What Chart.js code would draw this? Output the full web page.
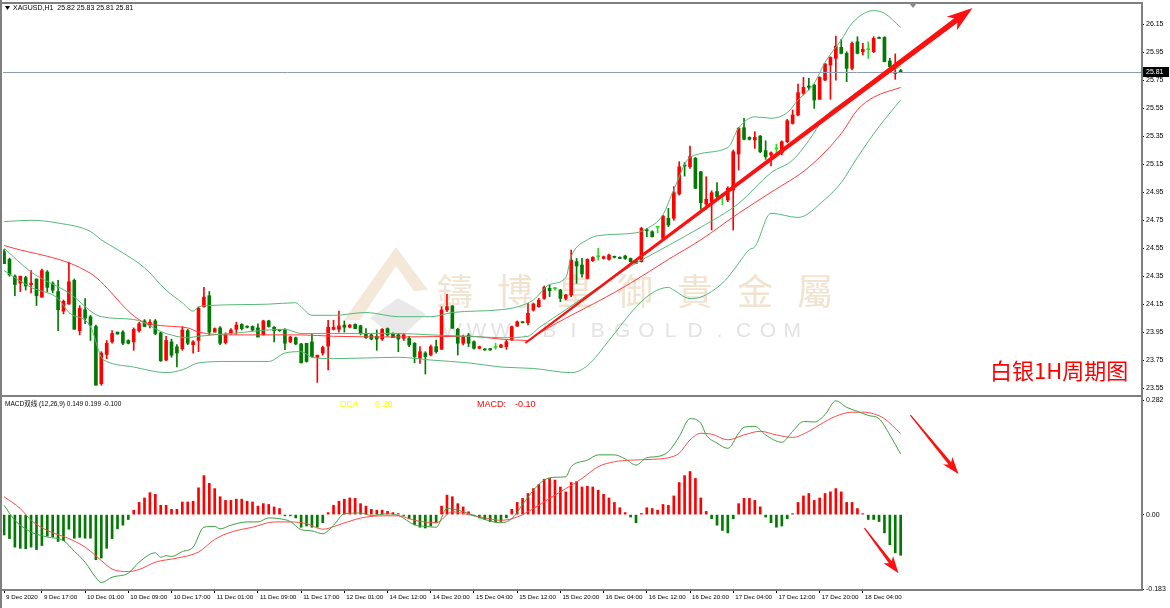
<!DOCTYPE html>
<html>
<head>
<meta charset="utf-8">
<title>XAGUSD H1</title>
<script src="https://cdn.jsdelivr.net/npm/chart.js@4.4.1/dist/chart.umd.min.js"></script>
<style>
  html, body { margin: 0; padding: 0; background: #fff; }
  #wrap { position: relative; width: 1170px; height: 608px; overflow: hidden; background: #fff; }
  #priceChart { position: absolute; left: 0; top: 0; }
  #macdChart { position: absolute; left: 0; top: 397px; }
</style>
</head>
<body>
<div id="wrap">
  <canvas id="priceChart" width="1170" height="397"></canvas>
  <canvas id="macdChart" width="1170" height="211"></canvas>
</div>
<script>
// time axis labels and the bar each one sits on
const timeLabels = ['9 Dec 2020', '9 Dec 17:00', '10 Dec 01:00', '10 Dec 09:00', '10 Dec 17:00', '11 Dec 01:00',
    '11 Dec 09:00', '11 Dec 17:00', '12 Dec 01:00', '14 Dec 12:00', '14 Dec 20:00', '15 Dec 04:00', '15 Dec 12:00',
    '15 Dec 20:00', '16 Dec 04:00', '16 Dec 12:00', '16 Dec 20:00', '17 Dec 04:00', '17 Dec 12:00', '17 Dec 20:00', '18 Dec 04:00'];
const timeTickBars = [0, 7, 15, 23, 31, 39, 47, 55, 63, 71, 79, 87, 95, 103, 111, 119, 127, 135, 143, 151, 159];

const priceTicks = [26.15, 25.95, 25.75, 25.55, 25.35, 25.15, 24.95, 24.75, 24.55, 24.35, 24.15, 23.95, 23.75, 23.55];
const macdTicks = [0.282, 0, -0.183];
const macdTickLabels = ['0.282', '0.00', '-0.183'];

// XAGUSD H1 candles
const opens = [
    24.525, 24.47, 24.35, 24.30, 24.34, 24.29, 24.33, 24.20, 24.38, 24.30,
    24.24, 24.10, 24.15, 24.32, 23.96, 24.11, 24.06, 23.99, 23.58, 23.79,
    23.88, 23.95, 23.95, 23.89, 23.88, 23.96, 24.03, 24.00, 24.03, 23.945,
    23.75, 23.88, 23.845, 23.83, 23.96, 23.86, 23.89, 24.13, 24.21, 23.95,
    23.98, 23.875, 23.94, 23.97, 24.005, 23.99, 23.99, 23.98, 23.93, 24.03,
    23.985, 23.965, 23.97, 23.88, 23.91, 23.865, 23.87, 23.88, 23.77, 23.80,
    23.85, 23.97, 23.97, 24.00, 23.985, 24.005, 23.995, 23.935, 23.93, 23.92,
    23.90, 23.975, 23.94, 23.93, 23.905, 23.905, 23.87, 23.762, 23.80, 23.786,
    23.846, 23.827, 24.108, 24.137, 23.97, 23.87, 23.929, 23.881, 23.834, 23.829,
    23.831, 23.84, 23.841, 23.846, 23.893, 23.993, 24.024, 24.017, 24.108, 24.132,
    24.191, 24.263, 24.26, 24.251, 24.191, 24.215, 24.454, 24.43, 24.334, 24.461,
    24.489, 24.477, 24.47, 24.489, 24.485, 24.494, 24.477, 24.458, 24.454, 24.68,
    24.668, 24.70, 24.62, 24.764, 24.764, 24.938, 25.145, 25.133, 25.193, 25.097,
    24.866, 24.883, 24.955, 24.92, 24.895, 24.966, 25.224, 25.412, 25.343, 25.324,
    25.352, 25.248, 25.217, 25.26, 25.233, 25.312, 25.443, 25.503, 25.658, 25.71,
    25.717, 25.615, 25.753, 25.86, 25.908, 25.987, 25.944, 25.837, 26.027, 25.956,
    25.97, 25.956, 26.058, 26.058, 25.889, 25.80, 25.82
];
const highs = [
    24.54, 24.48, 24.36, 24.35, 24.35, 24.39, 24.33, 24.40, 24.39, 24.31,
    24.32, 24.18, 24.45, 24.33, 24.14, 24.19, 24.07, 24.00, 23.81, 23.89,
    23.96, 23.95, 23.96, 23.895, 23.98, 24.02, 24.04, 24.04, 24.04, 23.95,
    23.92, 23.90, 23.86, 23.99, 23.97, 23.89, 24.13, 24.27, 24.24, 23.98,
    23.99, 23.945, 23.975, 24.02, 24.01, 23.995, 23.995, 24.01, 24.035, 24.035,
    23.99, 23.965, 23.975, 23.92, 23.915, 23.87, 23.87, 23.94, 23.785, 23.85,
    24.035, 24.035, 24.10, 24.03, 24.005, 24.01, 24.00, 23.975, 23.935, 23.965,
    23.975, 23.98, 23.945, 23.94, 23.94, 23.92, 23.875, 23.846, 23.81, 23.858,
    23.893, 24.132, 24.22, 24.14, 23.977, 23.929, 23.941, 23.888, 23.85, 23.832,
    23.834, 23.87, 23.862, 23.893, 23.993, 24.03, 24.026, 24.156, 24.158, 24.191,
    24.28, 24.287, 24.27, 24.256, 24.22, 24.537, 24.477, 24.477, 24.475, 24.49,
    24.549, 24.494, 24.508, 24.494, 24.489, 24.50, 24.48, 24.46, 24.70, 24.692,
    24.675, 24.704, 24.785, 24.835, 24.99, 25.169, 25.162, 25.281, 25.20, 25.10,
    25.061, 24.961, 25.019, 24.94, 24.99, 25.252, 25.415, 25.479, 25.347, 25.384,
    25.357, 25.319, 25.24, 25.295, 25.319, 25.472, 25.539, 25.724, 25.772, 25.765,
    25.724, 25.777, 25.872, 25.92, 26.068, 26.044, 25.956, 26.027, 26.063, 26.015,
    26.027, 26.063, 26.063, 26.063, 25.908, 25.94, 25.83
];
const lows = [
    24.44, 24.35, 24.21, 24.24, 24.25, 24.23, 24.14, 24.20, 24.24, 24.23,
    23.96, 24.08, 24.15, 23.97, 23.93, 24.01, 23.89, 23.57, 23.57, 23.76,
    23.87, 23.935, 23.86, 23.865, 23.82, 23.95, 23.99, 23.98, 23.93, 23.74,
    23.745, 23.77, 23.70, 23.82, 23.86, 23.80, 23.81, 24.13, 23.93, 23.95,
    23.86, 23.865, 23.935, 23.935, 23.965, 23.98, 23.96, 23.915, 23.93, 23.985,
    23.88, 23.955, 23.825, 23.875, 23.86, 23.73, 23.735, 23.77, 23.59, 23.785,
    23.68, 23.965, 23.95, 23.95, 23.98, 23.975, 23.93, 23.905, 23.895, 23.82,
    23.89, 23.92, 23.91, 23.81, 23.89, 23.845, 23.73, 23.726, 23.65, 23.78,
    23.80, 23.827, 24.096, 23.977, 23.786, 23.858, 23.846, 23.827, 23.83, 23.82,
    23.82, 23.827, 23.838, 23.827, 23.89, 23.99, 24.015, 24.001, 24.10, 24.127,
    24.184, 24.203, 24.25, 24.167, 24.18, 24.203, 24.299, 24.342, 24.33, 24.455,
    24.465, 24.472, 24.465, 24.48, 24.475, 24.47, 24.45, 24.44, 24.45, 24.632,
    24.63, 24.66, 24.613, 24.704, 24.75, 24.93, 25.066, 25.121, 24.978, 24.828,
    24.828, 24.68, 24.895, 24.86, 24.883, 24.68, 25.109, 25.324, 25.324, 25.264,
    25.233, 25.186, 25.138, 25.217, 25.217, 25.305, 25.438, 25.496, 25.646, 25.682,
    25.55, 25.615, 25.748, 25.615, 25.753, 25.94, 25.741, 25.825, 25.94, 25.932,
    25.908, 25.949, 26.05, 25.884, 25.837, 25.758, 25.81
];
const closes = [
    24.44, 24.36, 24.29, 24.35, 24.28, 24.30, 24.21, 24.39, 24.27, 24.25,
    24.11, 24.17, 24.31, 23.97, 24.12, 24.05, 24.00, 23.57, 23.80, 23.87,
    23.94, 23.936, 23.87, 23.87, 23.97, 24.01, 23.99, 24.02, 23.94, 23.745,
    23.89, 23.785, 23.80, 23.965, 23.87, 23.88, 24.12, 24.20, 23.95, 23.975,
    23.87, 23.93, 23.965, 24.00, 23.975, 23.985, 23.965, 23.915, 24.03, 23.99,
    23.96, 23.96, 23.87, 23.915, 23.865, 23.73, 23.74, 23.775, 23.785, 23.84,
    23.985, 23.985, 23.995, 23.985, 24.00, 23.975, 23.94, 23.91, 23.90, 23.90,
    23.97, 23.93, 23.91, 23.90, 23.93, 23.858, 23.775, 23.81, 23.775, 23.846,
    23.81, 24.108, 24.132, 23.977, 23.87, 23.917, 23.87, 23.834, 23.846, 23.822,
    23.822, 23.84, 23.858, 23.881, 23.989, 24.024, 24.017, 24.084, 24.151, 24.179,
    24.27, 24.246, 24.26, 24.191, 24.215, 24.465, 24.423, 24.366, 24.47, 24.485,
    24.489, 24.489, 24.501, 24.485, 24.477, 24.477, 24.454, 24.442, 24.692, 24.675,
    24.632, 24.70, 24.78, 24.716, 24.947, 25.133, 25.138, 25.205, 24.978, 24.876,
    24.90, 24.947, 24.919, 24.92, 24.978, 25.24, 25.407, 25.329, 25.329, 25.343,
    25.24, 25.205, 25.233, 25.26, 25.312, 25.462, 25.503, 25.663, 25.701, 25.701,
    25.61, 25.772, 25.868, 25.915, 25.996, 25.944, 25.837, 26.015, 25.944, 25.973,
    25.97, 26.051, 26.051, 25.884, 25.849, 25.808, 25.81
];

// indicator lines, [bar, value]
const bbUpper = [[0, 24.74], [5, 24.75], [10, 24.73], [16, 24.67], [18, 24.61], [21, 24.54], [26, 24.41], [30, 24.25],
    [33, 24.16], [35, 24.10], [36, 24.13], [38, 24.14], [49, 24.15], [54, 24.16], [55, 24.13], [57, 24.07], [61, 24.07],
    [67, 24.09], [73, 24.06], [79, 24.06], [83, 24.09], [92, 24.11], [95, 24.13], [98, 24.18], [101, 24.29], [104, 24.34],
    [105, 24.49], [108, 24.61], [110, 24.64], [117, 24.66], [119, 24.69], [122, 24.79], [124, 24.97], [127, 25.20],
    [134, 25.27], [136, 25.41], [139, 25.49], [142, 25.48], [145, 25.52], [147, 25.61], [150, 25.73], [152, 25.88],
    [155, 26.04], [157, 26.16], [161, 26.25], [163, 26.23], [166, 26.13]];
const bbMiddle = [[0, 24.55], [5, 24.38], [12, 24.23], [18, 24.06], [24, 24.04], [30, 23.94], [34, 23.91], [36, 23.92],
    [42, 23.94], [52, 23.97], [55, 23.94], [73, 23.94], [79, 23.93], [86, 23.92], [92, 23.91], [97, 23.92], [99, 23.98],
    [104, 24.11], [110, 24.27], [116, 24.42], [123, 24.57], [129, 24.70], [136, 24.87], [142, 25.09], [146, 25.18],
    [149, 25.32], [152, 25.49], [156, 25.61], [161, 25.75], [166, 25.85]];
const bbLower = [[0, 24.39], [5, 24.27], [10, 24.19], [12, 24.09], [16, 23.99], [18, 23.77], [19, 23.74], [24, 23.70],
    [30, 23.66], [33, 23.68], [36, 23.73], [42, 23.74], [49, 23.74], [52, 23.80], [55, 23.81], [57, 23.77], [61, 23.76],
    [73, 23.77], [79, 23.75], [86, 23.73], [92, 23.70], [98, 23.69], [105, 23.66], [108, 23.71], [112, 23.89],
    [117, 24.13], [120, 24.23], [123, 24.27], [124, 24.25], [127, 24.19], [129, 24.20], [133, 24.30], [135, 24.39],
    [138, 24.54], [139, 24.56], [142, 24.80], [147, 24.77], [152, 24.90], [155, 25.02], [158, 25.20], [162, 25.42], [166, 25.61]];
const maLine = [[0, 24.57], [16, 24.37], [26, 24.02], [34, 23.98], [36, 23.95], [42, 23.93], [55, 23.93], [61, 23.92],
    [73, 23.915], [86, 23.92], [92, 23.90], [97, 23.89], [99, 23.94], [104, 24.05], [110, 24.17], [116, 24.30],
    [123, 24.47], [129, 24.61], [136, 24.80], [142, 24.95], [149, 25.13], [155, 25.37], [158, 25.54], [161, 25.63], [166, 25.70]];

// MACD histogram, one per bar
const macdHist = [
    -0.050, -0.059, -0.080, -0.083, -0.084, -0.080, -0.086, -0.076, -0.053, -0.055,
    -0.066, -0.064, -0.036, -0.058, -0.056, -0.058, -0.058, -0.111, -0.107, -0.083,
    -0.059, -0.035, -0.026, -0.012, 0.011, 0.030, 0.041, 0.054, 0.050, 0.023,
    0.023, 0.013, 0.013, 0.031, 0.031, 0.033, 0.066, 0.096, 0.077, 0.064,
    0.044, 0.035, 0.035, 0.038, 0.038, 0.033, 0.031, 0.021, 0.027, 0.025,
    0.019, 0.015, -0.003, -0.003, -0.008, -0.031, -0.028, -0.031, -0.031, -0.020,
    0.005, 0.023, 0.033, 0.038, 0.041, 0.040, 0.027, 0.021, 0.013, 0.011,
    0.011, 0.008, 0.005, 0.002, -0.002, -0.010, -0.025, -0.031, -0.033, -0.028,
    -0.020, 0.021, 0.048, 0.044, 0.027, 0.019, 0.007, -0.003, -0.008, -0.012,
    -0.017, -0.018, -0.017, -0.008, 0.013, 0.030, 0.040, 0.052, 0.064, 0.074,
    0.087, 0.089, 0.085, 0.068, 0.056, 0.079, 0.081, 0.068, 0.070, 0.068,
    0.060, 0.050, 0.041, 0.030, 0.017, 0.005, -0.006, -0.020, 0.003, 0.017,
    0.015, 0.011, 0.025, 0.023, 0.046, 0.079, 0.096, 0.106, 0.089, 0.041,
    0.008, -0.010, -0.026, -0.039, -0.045, -0.010, 0.027, 0.040, 0.040, 0.035,
    0.019, -0.006, -0.020, -0.031, -0.028, -0.010, 0.002, 0.030, 0.046, 0.052,
    0.035, 0.041, 0.052, 0.056, 0.064, 0.056, 0.030, 0.030, 0.015, 0.002,
    -0.012, -0.012, -0.017, -0.045, -0.074, -0.094, -0.100
];
const difLine = [[0, 0.023], [2, -0.014], [5, -0.043], [8, -0.055], [11, -0.064], [13, -0.090], [15, -0.117], [17, -0.155],
    [18, -0.167], [20, -0.154], [23, -0.144], [25, -0.117], [28, -0.094], [29, -0.105], [30, -0.101], [31, -0.103],
    [33, -0.091], [35, -0.080], [37, -0.031], [39, -0.029], [40, -0.035], [42, -0.026], [45, -0.018], [47, -0.018],
    [49, -0.008], [51, -0.010], [53, -0.017], [55, -0.037], [57, -0.040], [59, -0.047], [61, -0.026], [63, 0.002],
    [66, 0.004], [68, -0.002], [71, 0.002], [73, -0.002], [76, -0.025], [78, -0.029], [80, -0.031], [82, 0.015],
    [84, 0.011], [87, -0.002], [89, -0.012], [92, -0.020], [94, -0.010], [96, 0.025], [98, 0.060], [100, 0.085],
    [102, 0.092], [104, 0.093], [105, 0.118], [108, 0.134], [110, 0.147], [113, 0.147], [115, 0.137], [117, 0.122],
    [119, 0.140], [121, 0.143], [123, 0.155], [125, 0.192], [127, 0.236], [129, 0.225], [130, 0.196], [132, 0.176],
    [134, 0.163], [136, 0.200], [137, 0.215], [139, 0.217], [141, 0.196], [144, 0.178], [146, 0.205], [148, 0.229],
    [150, 0.228], [152, 0.246], [154, 0.280], [156, 0.264], [158, 0.254], [160, 0.244], [162, 0.236], [164, 0.196], [166, 0.149]];
const deaLine = [[0, 0.044], [3, 0.015], [5, -0.014], [8, -0.039], [12, -0.059], [15, -0.080], [18, -0.113], [20, -0.134],
    [23, -0.140], [25, -0.135], [28, -0.117], [32, -0.107], [36, -0.092], [39, -0.061], [42, -0.043], [46, -0.031],
    [50, -0.018], [53, -0.018], [56, -0.022], [59, -0.036], [62, -0.025], [65, -0.012], [67, -0.006], [70, -0.003],
    [73, -0.003], [76, -0.014], [80, -0.020], [83, 0.007], [86, 0.000], [89, -0.008], [92, -0.014], [95, -0.006],
    [98, 0.015], [101, 0.040], [104, 0.064], [107, 0.089], [110, 0.118], [113, 0.130], [116, 0.134], [120, 0.136],
    [123, 0.140], [125, 0.151], [127, 0.184], [129, 0.200], [131, 0.198], [134, 0.184], [137, 0.196], [140, 0.205],
    [143, 0.196], [146, 0.190], [149, 0.205], [151, 0.221], [154, 0.242], [157, 0.252], [159, 0.252], [161, 0.248],
    [163, 0.236], [166, 0.199]];

// hand drawn arrows, [bar, value] from -> to
const trendArrow = [[96.5, 23.872], [179.3, 26.268]];
const macdArrows = [[[167.8, 0.245], [176.7, 0.100]], [[159.3, -0.033], [165.6, -0.144]]];

const xMin = -0.2, xMax = 210.5;
const upColor = '#ff0000', downColor = '#007a00', dojiColor = '#22dd22';
const bandColor = '#55b878';
const frameColor = '#7f7f7f';
const axisFont = { family: 'Liberation Sans', size: 7 };
const timeFont = { family: 'Liberation Sans', size: 6.2 };

Chart.defaults.font.family = 'Liberation Sans';

const bars = opens.map((_, i) => i);
const last = bars.length - 1;

function toPoints(pairs) {
    return pairs.map(p => ({ x: p[0], y: p[1] }));
}

function candleColor(i) {
    if (opens[i] === closes[i]) return dojiColor;
    return closes[i] > opens[i] ? upColor : downColor;
}

function drawArrow(ctx, x1, y1, x2, y2, w0, w1, headLen, headW, color) {
    const dx = x2 - x1, dy = y2 - y1, len = Math.hypot(dx, dy);
    const ux = dx / len, uy = dy / len, px = -uy, py = ux;
    const bx = x2 - ux * headLen, by = y2 - uy * headLen;
    const nx = x2 - ux * headLen * 0.8, ny = y2 - uy * headLen * 0.8;
    ctx.beginPath();
    ctx.moveTo(x1 + px * w0 / 2, y1 + py * w0 / 2);
    ctx.lineTo(nx + px * w1 / 2, ny + py * w1 / 2);
    ctx.lineTo(bx + px * headW / 2, by + py * headW / 2);
    ctx.lineTo(x2, y2);
    ctx.lineTo(bx - px * headW / 2, by - py * headW / 2);
    ctx.lineTo(nx - px * w1 / 2, ny - py * w1 / 2);
    ctx.lineTo(x1 - px * w0 / 2, y1 - py * w0 / 2);
    ctx.closePath();
    ctx.fillStyle = color;
    ctx.fill();
}

function lineSet(label, pairs, color) {
    return {
        type: 'line', label: label, data: toPoints(pairs),
        borderColor: color, borderWidth: 1, pointRadius: 0,
        cubicInterpolationMode: 'monotone', order: 0
    };
}

const priceDecor = {
    id: 'priceDecor',
    beforeDatasetsDraw(chart) {
        const ctx = chart.ctx;
        ctx.save();
        // watermark logo
        ctx.fillStyle = '#f4e8d8';
        ctx.beginPath();
        ctx.moveTo(344, 320); ctx.lineTo(396, 247); ctx.lineTo(428, 290); ctx.lineTo(414, 291);
        ctx.lineTo(396, 266); ctx.lineTo(360, 320); ctx.closePath(); ctx.fill();
        ctx.fillStyle = '#e9e9e9';
        ctx.beginPath();
        ctx.moveTo(370, 318); ctx.lineTo(398, 298); ctx.lineTo(426, 314); ctx.lineTo(398, 340); ctx.closePath(); ctx.fill();
        ctx.fillStyle = '#f1e3cf';
        ctx.font = '36px "Noto Sans CJK TC"';
        ctx.textAlign = 'center';
        ctx.textBaseline = 'middle';
        const wm = ['鑄', '博', '皇', '御', '貴', '金', '屬'];
        wm.forEach((ch, k) => ctx.fillText(ch, 455 + k * 60, 291));
        ctx.fillStyle = '#e3e3e3';
        ctx.font = '21px "Liberation Sans"';
        'WWW.BIBGOLD.COM'.split('').forEach((ch, k) => ctx.fillText(ch, 452 + k * 24.3, 331));
        ctx.restore();
    },
    afterDatasetsDraw(chart) {
        const { ctx, chartArea: a, scales: { x, y } } = chart;
        ctx.save();
        // bid line
        const py = Math.round(y.getPixelForValue(closes[last])) + 0.5;
        ctx.strokeStyle = '#8d9db0';
        ctx.lineWidth = 1;
        ctx.beginPath(); ctx.moveTo(a.left, py); ctx.lineTo(a.right, py); ctx.stroke();
        // trend arrow
        drawArrow(ctx, x.getPixelForValue(trendArrow[0][0]), y.getPixelForValue(trendArrow[0][1]),
            x.getPixelForValue(trendArrow[1][0]), y.getPixelForValue(trendArrow[1][1]), 2, 5.5, 26, 17, '#ff1010');
        // caption
        ctx.fillStyle = '#ff0000';
        ctx.font = '22px "Noto Sans CJK SC"';
        ctx.textAlign = 'left';
        ctx.textBaseline = 'middle';
        ctx.fillText('白银1H周期图', 990, 371);
        ctx.restore();
    },
    afterDraw(chart) {
        const { ctx, chartArea: a, scales: { y } } = chart;
        ctx.save();
        ctx.fillStyle = frameColor;
        ctx.fillRect(0, 0, 2, chart.height);
        ctx.fillRect(2, a.top - 2, a.right - 2, 2);
        ctx.fillRect(a.right, a.top - 2, 2, chart.height - a.top + 2);
        ctx.fillRect(2, a.bottom, a.right - 2, 2);
        // shift marker
        ctx.fillStyle = '#8a8a8a';
        ctx.beginPath(); ctx.moveTo(909, 3); ctx.lineTo(917, 3); ctx.lineTo(913, 8); ctx.closePath(); ctx.fill();
        // symbol title
        ctx.fillStyle = '#000';
        ctx.beginPath(); ctx.moveTo(5, 6); ctx.lineTo(10, 6); ctx.lineTo(7.5, 10); ctx.closePath(); ctx.fill();
        ctx.font = '7px "Liberation Sans"';
        ctx.textBaseline = 'middle';
        ctx.textAlign = 'left';
        const ohlc = [opens, highs, lows, closes].map(arr => arr[last].toFixed(2)).join(' ');
        ctx.fillText('XAGUSD,H1  ' + ohlc, 13, 8.5);
        // last price box on the axis
        const py = Math.round(y.getPixelForValue(closes[last]));
        ctx.fillStyle = '#000';
        ctx.fillRect(a.right + 2, py - 5, 26, 10);
        ctx.fillStyle = '#fff';
        ctx.fillText(closes[last].toFixed(2), a.right + 5, py + 0.5);
        ctx.restore();
    }
};

const macdDecor = {
    id: 'macdDecor',
    afterDatasetsDraw(chart) {
        const { ctx, scales: { x, y } } = chart;
        ctx.save();
        macdArrows.forEach(arr => {
            drawArrow(ctx, x.getPixelForValue(arr[0][0]), y.getPixelForValue(arr[0][1]),
                x.getPixelForValue(arr[1][0]), y.getPixelForValue(arr[1][1]), 1.2, 3.5, 17, 12, '#ff1010');
        });
        ctx.restore();
    },
    afterDraw(chart) {
        const { ctx, chartArea: a } = chart;
        ctx.save();
        ctx.fillStyle = frameColor;
        ctx.fillRect(0, 0, 2, chart.height);
        ctx.fillRect(a.right, 0, 2, a.bottom + 2);
        ctx.fillRect(2, a.bottom, a.right - 2, 2);
        const dif = difLine[difLine.length - 1][1];
        const dea = deaLine[deaLine.length - 1][1];
        const hist = macdHist[last];
        ctx.textBaseline = 'middle';
        ctx.textAlign = 'left';
        ctx.fillStyle = '#000';
        ctx.font = '6.5px "Liberation Sans", "Noto Sans CJK SC"';
        ctx.fillText('MACD双线 (12,26,9) ' + dif.toFixed(3) + ' ' + dea.toFixed(3) + ' ' + hist.toFixed(3), 5, 7.5);
        ctx.font = '9px "Liberation Sans"';
        ctx.fillStyle = '#ffff00';
        ctx.fillText('DEA', 340, 7.5);
        ctx.fillText(dea.toFixed(2), 375, 7.5);
        ctx.fillStyle = '#ff0000';
        ctx.fillText('MACD:', 477, 7.5);
        ctx.fillText(hist.toFixed(2), 515, 7.5);
        ctx.restore();
    }
};

const priceChart = new Chart(document.getElementById('priceChart').getContext('2d'), {
    type: 'bar',
    data: {
        datasets: [
            lineSet('BB upper', bbUpper, bandColor),
            lineSet('BB middle', bbMiddle, bandColor),
            lineSet('BB lower', bbLower, bandColor),
            lineSet('MA', maLine, '#ff3c3c'),
            {
                label: 'Wicks',
                data: bars.map(i => ({ x: i, y: [lows[i], highs[i]] })),
                backgroundColor: c => candleColor(c.dataIndex),
                barThickness: 1,
                grouped: false,
                order: 2
            },
            {
                label: 'Bodies',
                data: bars.map(i => ({ x: i, y: [opens[i], closes[i]] })),
                backgroundColor: c => candleColor(c.dataIndex),
                barThickness: 3,
                minBarLength: 1,
                grouped: false,
                order: 1
            }
        ]
    },
    options: {
        responsive: false,
        animation: false,
        events: [],
        layout: { padding: { left: 3, top: 4, right: 0, bottom: 2 } },
        scales: {
            x: { type: 'linear', display: false, min: xMin, max: xMax, offset: false },
            y: {
                type: 'linear',
                position: 'right',
                min: 23.50,
                max: 26.297,
                afterBuildTicks: s => { s.ticks = priceTicks.map(v => ({ value: v })); },
                afterFit: s => { s.width = 29; s.paddingTop = 0; s.paddingBottom = 0; },
                grid: { drawOnChartArea: false, tickLength: 3, color: '#000' },
                border: { display: false },
                ticks: { padding: 2, font: axisFont, color: '#000', callback: v => v.toFixed(2) }
            }
        },
        plugins: { legend: { display: false }, tooltip: { enabled: false } }
    },
    plugins: [priceDecor]
});

const macdChart = new Chart(document.getElementById('macdChart').getContext('2d'), {
    type: 'bar',
    data: {
        datasets: [
            {
                type: 'line', label: 'DIF', data: toPoints(difLine),
                borderColor: '#3f9f3f', borderWidth: 1, pointRadius: 0,
                cubicInterpolationMode: 'monotone', order: 0
            },
            {
                type: 'line', label: 'DEA', data: toPoints(deaLine),
                borderColor: '#ff4a4a', borderWidth: 1, pointRadius: 0,
                cubicInterpolationMode: 'monotone', order: 0
            },
            {
                label: 'MACD',
                data: bars.map(i => ({ x: i, y: macdHist[i] })),
                backgroundColor: c => (macdHist[c.dataIndex] >= 0 ? '#ff0000' : '#007a00'),
                barThickness: 2,
                minBarLength: 1,
                order: 1
            }
        ]
    },
    options: {
        responsive: false,
        animation: false,
        events: [],
        layout: { padding: { left: 3, top: 3, right: 0, bottom: 0 } },
        scales: {
            x: {
                type: 'linear',
                position: 'bottom',
                min: xMin,
                max: xMax,
                offset: false,
                afterBuildTicks: s => { s.ticks = timeTickBars.map(v => ({ value: v })); },
                afterFit: s => { s.height = 19; s.paddingLeft = 0; s.paddingRight = 0; },
                grid: { drawOnChartArea: false, tickLength: 4, color: '#000', offset: false },
                border: { display: false },
                ticks: {
                    autoSkip: false, maxRotation: 0, minRotation: 0, align: 'start', labelOffset: 2,
                    padding: 1, font: timeFont, color: '#000',
                    callback: (v, idx) => timeLabels[idx]
                }
            },
            y: {
                type: 'linear',
                position: 'right',
                min: -0.183,
                max: 0.282,
                afterBuildTicks: s => { s.ticks = macdTicks.map(v => ({ value: v })); },
                afterFit: s => { s.width = 29; s.paddingTop = 0; s.paddingBottom = 0; },
                grid: { drawOnChartArea: false, tickLength: 3, color: '#000' },
                border: { display: false },
                ticks: { padding: 2, font: axisFont, color: '#000', callback: (v, idx) => macdTickLabels[idx] }
            }
        },
        plugins: { legend: { display: false }, tooltip: { enabled: false } }
    },
    plugins: [macdDecor]
});
</script>
</body>
</html>
